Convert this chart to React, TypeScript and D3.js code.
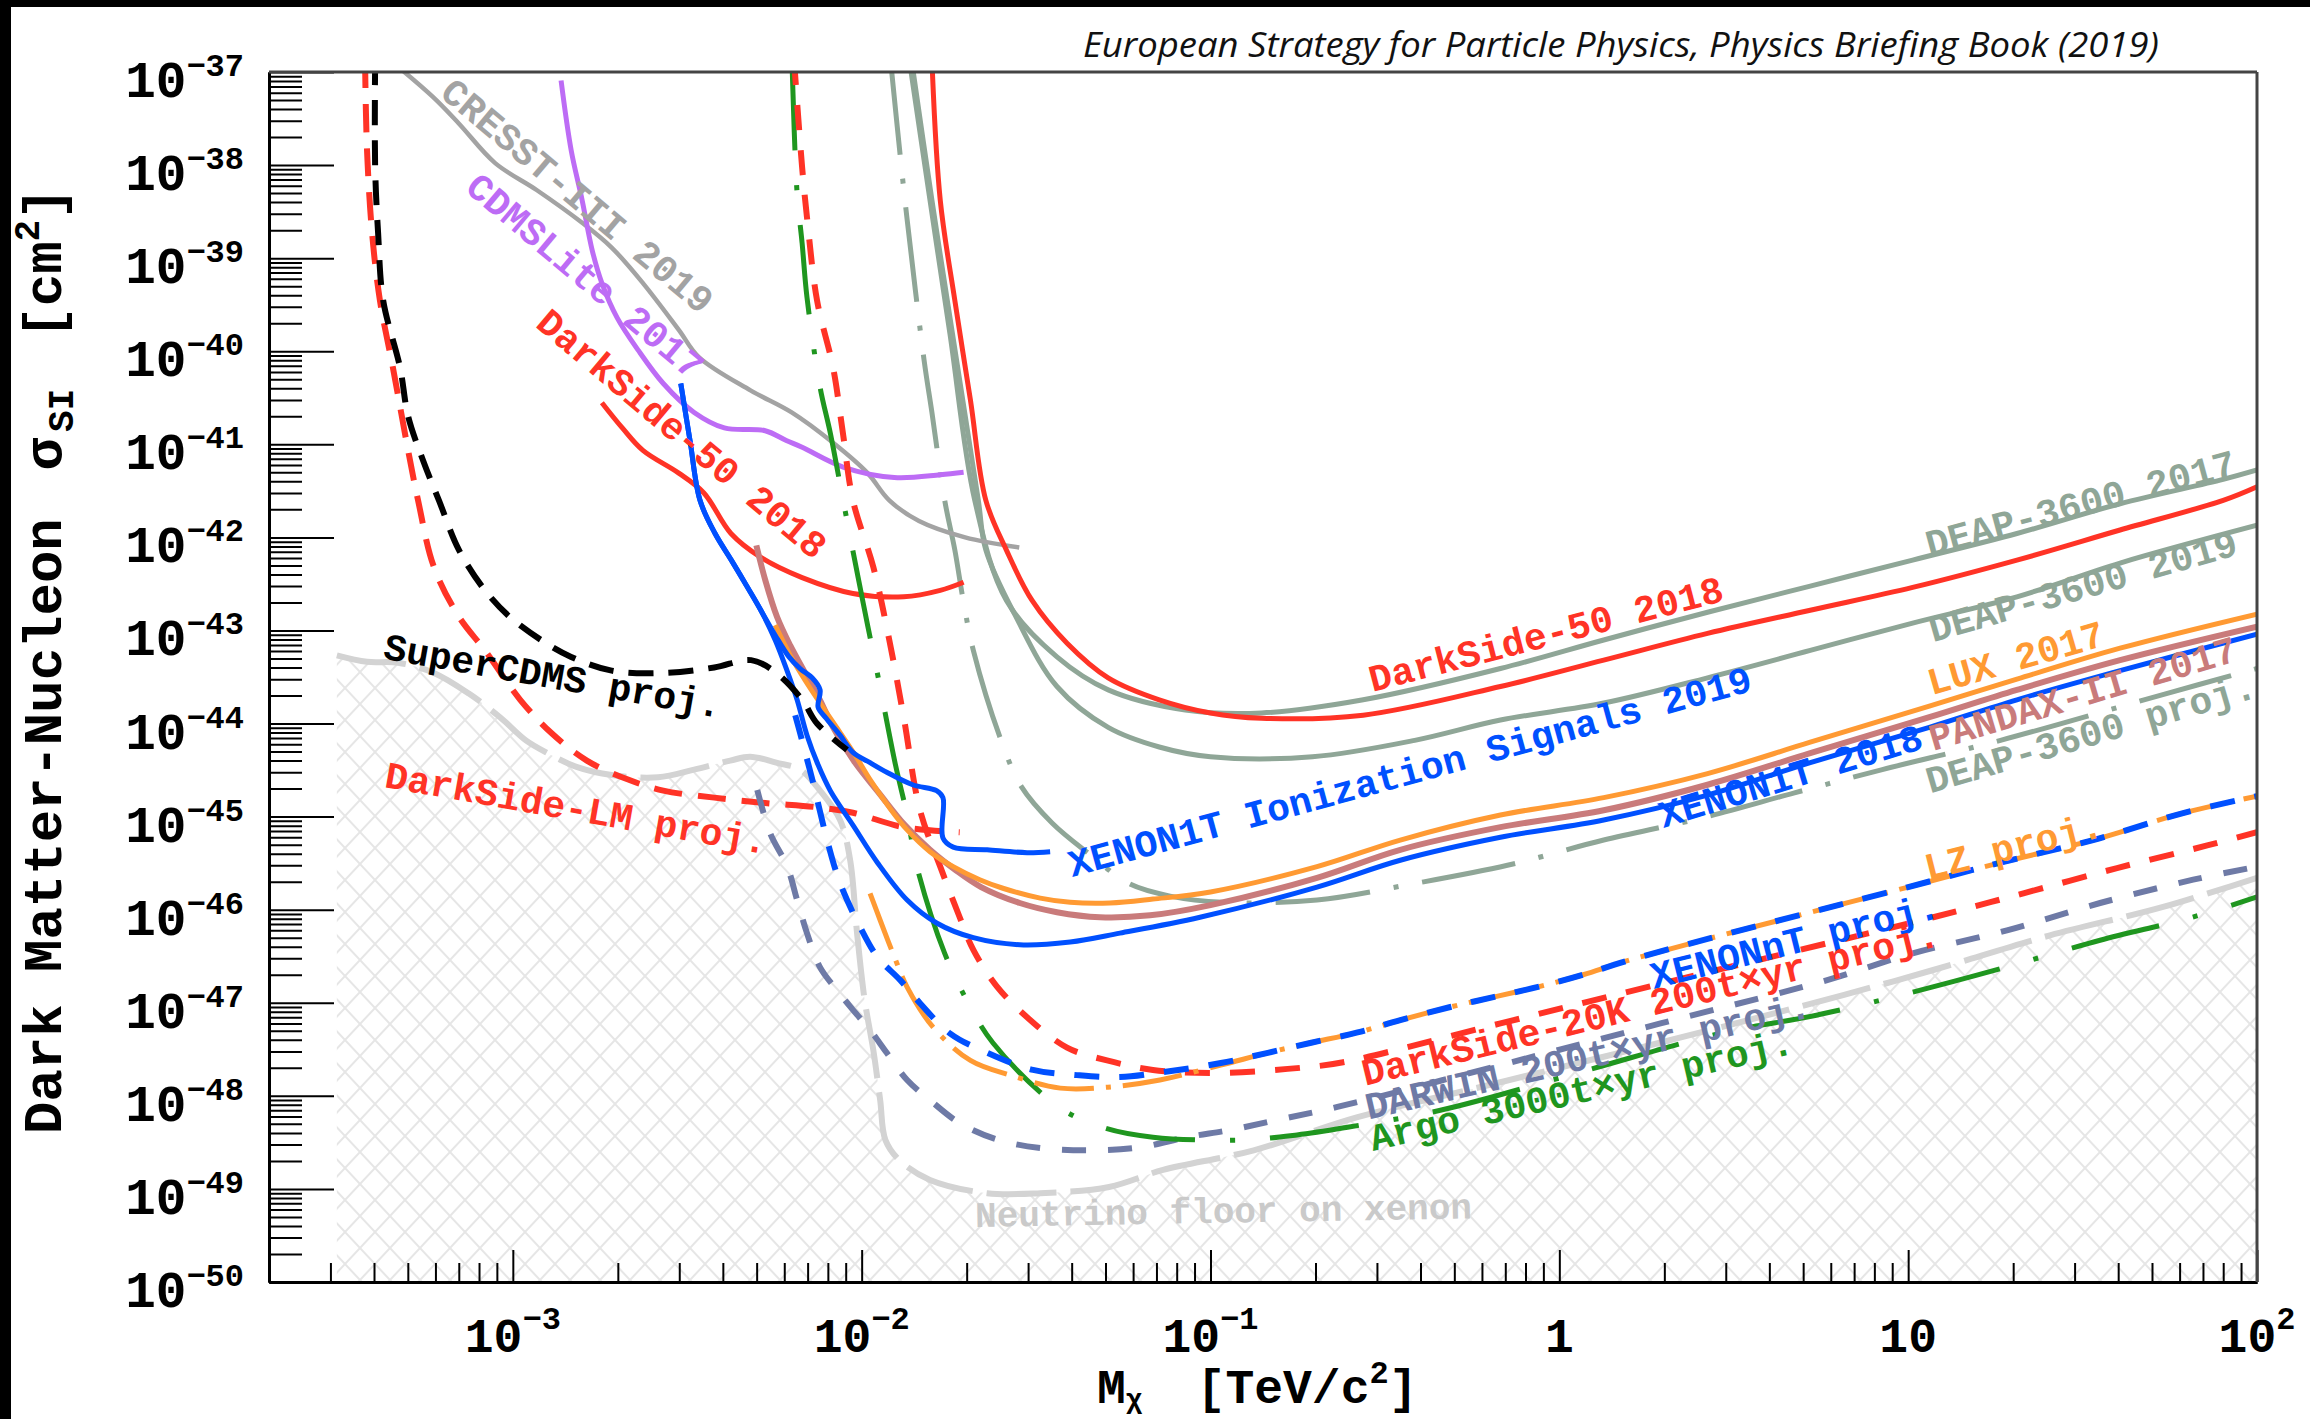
import * as d3 from "d3";
import { useEffect, useRef } from "react";

type Pt = [number, number]; // [WIMP mass in TeV/c^2, cross-section in cm^2]

// ---------- curves ----------
const cresst2019: Pt[] = [[4.45e-4, 1.34e-37], [5.9e-4, 5.4e-38], [7.0e-4, 2.8e-38], [8.9e-4, 1.05e-38], [1.17e-3, 5.4e-39], [1.58e-3, 2.4e-39], [1.92e-3, 1.3e-39], [2.36e-3, 5.4e-40], [2.99e-3, 1.7e-40], [3.42e-3, 8.6e-41], [4.8e-3, 3.8e-41], [6.3e-3, 2.2e-41], [8.3e-3, 1.03e-41], [1.04e-2, 4.9e-42], [1.2e-2, 2.5e-42], [1.46e-2, 1.5e-42], [1.98e-2, 1.0e-42], [2.83e-2, 7.8e-43]];

const cdmsLite2017: Pt[] = [[1.375e-3, 8.1e-38], [1.47e-3, 1.44e-38], [1.58e-3, 4.2e-39], [1.69e-3, 1.2e-39], [1.8e-3, 5.4e-40], [1.99e-3, 2.3e-40], [2.29e-3, 1.02e-40], [2.7e-3, 4.5e-41], [3.31e-3, 2.2e-41], [4.04e-3, 1.5e-41], [5.29e-3, 1.4e-41], [6.08e-3, 1.1e-41], [6.75e-3, 9.3e-42], [8.85e-3, 5.7e-42], [1.24e-2, 4.4e-42], [1.68e-2, 4.7e-42], [1.96e-2, 5.0e-42]];

const darkSide50Low: Pt[] = [[1.8e-3, 2.8e-41], [2.06e-3, 1.5e-41], [2.36e-3, 8.6e-42], [2.99e-3, 4.9e-42], [3.53e-3, 3.0e-42], [4.22e-3, 1.1e-42], [5.14e-3, 6.1e-43], [6.75e-3, 3.7e-43], [9.44e-3, 2.5e-43], [1.32e-2, 2.3e-43], [1.68e-2, 2.7e-43], [1.96e-2, 3.3e-43]];

const darkSide50High: Pt[] = [[1.59e-2, 1.34e-37], [1.68e-2, 4.2e-39], [1.85e-2, 3.5e-40], [2.05e-2, 3.0e-41], [2.27e-2, 2.5e-42], [2.6e-2, 7.3e-43], [3.08e-2, 2.1e-43], [3.88e-2, 7.3e-44], [5.09e-2, 3.1e-44], [7.13e-2, 1.8e-44], [0.1, 1.3e-44], [0.14, 1.14e-44], [0.274, 1.23e-44], [0.678, 2.5e-44], [1.34, 4.8e-44], [2.66, 9.3e-44], [5.24, 1.65e-43], [10.3, 2.9e-43], [20.5, 5.7e-43], [40.5, 1.2e-42], [80, 2.5e-42], [100, 3.5e-42]];

const deap2017: Pt[] = [[1.37e-2, 1.34e-37], [1.57e-2, 4.2e-39], [1.79e-2, 1.56e-40], [2.11e-2, 2.5e-42], [2.6e-2, 2.1e-43], [3.63e-2, 5.2e-44], [5.09e-2, 2.3e-44], [8.47e-2, 1.4e-44], [0.14, 1.3e-44], [0.274, 1.8e-44], [0.678, 3.9e-44], [1.34, 7.9e-44], [2.66, 1.57e-43], [5.24, 3.0e-43], [10.3, 5.7e-43], [20.5, 1.1e-42], [40.5, 2.3e-42], [80, 4.2e-42], [100, 5.3e-42]];

const deap2019: Pt[] = [[1.39e-2, 1.34e-37], [1.59e-2, 4.2e-39], [1.82e-2, 1.56e-40], [2.16e-2, 2.5e-42], [2.27e-2, 7.3e-43], [2.77e-2, 1.4e-43], [3.63e-2, 2.5e-44], [5.09e-2, 9.1e-45], [7.13e-2, 5.6e-45], [0.1, 4.4e-45], [0.196, 4.4e-45], [0.385, 6.6e-45], [0.678, 1.09e-44], [1.34, 1.66e-44], [2.66, 3.1e-44], [5.24, 6.1e-44], [10.3, 1.2e-43], [20.5, 2.3e-43], [40.5, 5.3e-43], [100, 1.35e-42]];

const deapProj: Pt[] = [[1.21e-2, 1.34e-37], [1.3e-2, 9.5e-39], [1.35e-2, 2.6e-39], [1.51e-2, 8.0e-41], [1.59e-2, 2.2e-41], [1.73e-2, 2.5e-42], [1.85e-2, 7.3e-43], [1.96e-2, 2.0e-43], [2.09e-2, 6.1e-44], [2.51e-2, 6.6e-45], [2.87e-2, 2.1e-45], [3.52e-2, 8.5e-46], [4.52e-2, 3.9e-46], [5.85e-2, 1.9e-46], [7.66e-2, 1.4e-46], [0.109, 1.2e-46], [0.202, 1.27e-46], [0.381, 1.9e-46], [0.71, 3.0e-46], [1.34, 5.6e-46], [2.54, 9.6e-46], [4.72, 1.8e-45], [8.43, 3.2e-45], [18.4, 6.6e-45], [55, 2.1e-44], [100, 3.9e-44]];

const xenon1tIonization2019: Pt[] = [[3.03e-3, 4.5e-41], [3.22e-3, 1.1e-41], [3.44e-3, 2.5e-42], [3.8e-3, 1.1e-42], [4.23e-3, 5.7e-43], [4.66e-3, 3.1e-43], [5.14e-3, 1.65e-43], [5.65e-3, 8.9e-44], [6.19e-3, 5.2e-44], [6.66e-3, 3.9e-44], [7.21e-3, 3.1e-44], [7.6e-3, 2.3e-44], [7.5e-3, 1.5e-44], [7.91e-3, 1.14e-44], [8.67e-3, 7.5e-45], [9.44e-3, 4.9e-45], [1.057e-2, 3.8e-45], [1.18e-2, 3.0e-45], [1.4e-2, 2.2e-45], [1.64e-2, 1.9e-45], [1.71e-2, 1.6e-45], [1.71e-2, 5.9e-46], [1.83e-2, 4.7e-46], [2.29e-2, 4.4e-46], [2.98e-2, 4.1e-46], [3.47e-2, 4.2e-46]];

const xenon1t2018: Pt[] = [[3.03e-3, 4.5e-41], [3.22e-3, 1.1e-41], [3.44e-3, 2.5e-42], [3.8e-3, 1.1e-42], [4.23e-3, 5.7e-43], [4.66e-3, 3.1e-43], [5.14e-3, 1.65e-43], [5.65e-3, 7.9e-44], [6.11e-3, 3.7e-44], [6.53e-3, 1.8e-44], [6.97e-3, 7.5e-45], [7.5e-3, 3.6e-45], [8.13e-3, 1.9e-45], [9.44e-3, 8.1e-46], [1.11e-2, 3.2e-46], [1.35e-2, 1.27e-46], [1.64e-2, 7.2e-47], [2.09e-2, 5.0e-47], [2.84e-2, 4.2e-47], [3.96e-2, 4.5e-47], [5.5e-2, 5.6e-47], [9.33e-2, 8.3e-47], [0.202, 1.75e-46], [0.35, 3.4e-46], [0.678, 6.0e-46], [1.34, 9.2e-46], [2.66, 1.7e-45], [5.24, 3.8e-45], [11.5, 9.1e-45], [20.5, 1.8e-44], [40.5, 3.7e-44], [100, 9.1e-44]];

const pandax2017: Pt[] = [[4.99e-3, 8.2e-43], [5.29e-3, 3.5e-43], [5.72e-3, 1.4e-43], [6.24e-3, 6.9e-44], [6.75e-3, 4.0e-44], [7.59e-3, 1.8e-44], [8.28e-3, 9.1e-45], [9.57e-3, 3.8e-45], [1.12e-2, 1.8e-45], [1.33e-2, 8.1e-46], [1.57e-2, 4.4e-46], [1.85e-2, 2.7e-46], [2.2e-2, 1.75e-46], [2.84e-2, 1.18e-46], [3.63e-2, 9.4e-47], [4.82e-2, 8.3e-47], [6.71e-2, 8.7e-47], [0.1, 1.12e-46], [0.202, 2.2e-46], [0.35, 4.4e-46], [0.678, 7.7e-46], [1.34, 1.17e-45], [2.66, 2.2e-45], [5.24, 4.8e-45], [11.5, 1.17e-44], [20.5, 2.3e-44], [40.5, 4.8e-44], [100, 1.1e-43]];

const lux2017: Pt[] = [[5.65e-3, 1.14e-43], [6.24e-3, 5.4e-44], [6.89e-3, 2.9e-44], [7.6e-3, 1.66e-44], [8.39e-3, 9.6e-45], [9.57e-3, 4.6e-45], [1.057e-2, 2.5e-45], [1.205e-2, 1.23e-45], [1.35e-2, 7.2e-46], [1.57e-2, 4.2e-46], [1.83e-2, 2.9e-46], [2.18e-2, 2.1e-46], [2.54e-2, 1.7e-46], [3.25e-2, 1.33e-46], [3.96e-2, 1.2e-46], [5.15e-2, 1.18e-46], [6.84e-2, 1.3e-46], [0.1, 1.55e-46], [0.202, 2.9e-46], [0.35, 5.6e-46], [0.678, 1.04e-45], [1.34, 1.6e-45], [2.66, 2.9e-45], [5.24, 6.3e-45], [11.5, 1.54e-44], [20.5, 3.0e-44], [40.5, 6.45e-44], [100, 1.5e-43]];

const darkSideLMProj: Pt[] = [[3.77e-4, 1.34e-37], [3.82e-4, 1.44e-38], [3.95e-4, 1.85e-39], [4.16e-4, 3.5e-40], [4.53e-4, 6.7e-41], [5.01e-4, 8.6e-42], [5.35e-4, 2.5e-42], [5.94e-4, 4.8e-43], [7.01e-4, 1.4e-43], [8.32e-4, 6.1e-44], [1.05e-3, 1.8e-44], [1.29e-3, 7.9e-45], [1.63e-3, 4.0e-45], [2.14e-3, 2.5e-45], [2.7e-3, 1.9e-45], [3.78e-3, 1.6e-45], [5.29e-3, 1.4e-45], [7.45e-3, 1.26e-45], [9.44e-3, 1.1e-45], [1.32e-2, 7.7e-46], [1.91e-2, 6.8e-46]];

const superCDMSProj: Pt[] = [[4.03e-4, 1.34e-37], [4.03e-4, 9.5e-39], [4.11e-4, 1.85e-39], [4.25e-4, 3.5e-40], [4.75e-4, 6.7e-41], [5.01e-4, 2.0e-41], [5.53e-4, 6.7e-42], [6.14e-4, 2.5e-42], [7.01e-4, 7.3e-43], [8.32e-4, 2.7e-43], [9.8e-4, 1.4e-43], [1.205e-3, 7.9e-44], [1.47e-3, 5.2e-44], [1.92e-3, 3.7e-44], [2.7e-3, 3.5e-44], [3.78e-3, 4.0e-44], [4.82e-3, 4.8e-44], [5.69e-3, 3.5e-44], [6.75e-3, 1.8e-44], [7.45e-3, 1.0e-44], [9.08e-3, 5.2e-45]];

const argoProj: Pt[] = [[6.31e-3, 1.34e-37], [6.53e-3, 5.0e-39], [6.75e-3, 1.45e-39], [6.97e-3, 3.8e-40], [7.6e-3, 4.1e-41], [8.13e-3, 1.32e-41], [8.85e-3, 2.5e-42], [9.77e-3, 3.7e-43], [1.04e-2, 1.14e-43], [1.12e-2, 2.9e-44], [1.25e-2, 3.6e-45], [1.35e-2, 1.04e-45], [1.44e-2, 2.9e-46], [1.73e-2, 3.4e-47], [2.0e-2, 1.07e-47], [2.38e-2, 3.7e-48], [3.71e-2, 7.4e-49], [4.99e-2, 4.5e-49], [6.84e-2, 3.6e-49], [0.122, 3.35e-49], [0.177, 3.8e-49], [0.247, 4.6e-49], [0.456, 7.0e-49], [1.15, 1.8e-48], [2.9, 4.7e-48], [5.5, 7.4e-48], [10.3, 1.3e-47], [19, 2.4e-47], [35.5, 4.7e-47], [65.2, 8.3e-47], [100, 1.37e-46]];

const darkSide20kProj: Pt[] = [[6.4e-3, 1.34e-37], [6.75e-3, 9.5e-39], [6.97e-3, 2.75e-39], [7.45e-3, 3.5e-40], [8.28e-3, 6.7e-41], [8.84e-3, 1.3e-41], [9.44e-3, 2.5e-42], [1.08e-2, 4.8e-43], [1.2e-2, 7.9e-44], [1.32e-2, 1.17e-44], [1.47e-2, 1.17e-45], [1.68e-2, 2.9e-46], [1.91e-2, 8.3e-47], [2.09e-2, 3.7e-47], [2.44e-2, 1.5e-47], [2.98e-2, 7.0e-48], [3.88e-2, 3.3e-48], [5.05e-2, 2.4e-48], [6.84e-2, 1.9e-48], [0.102, 1.76e-48], [0.181, 2.0e-48], [0.24, 2.3e-48], [0.678, 6.0e-48], [1.82, 1.5e-47], [4.9, 3.7e-47], [11.8, 8.3e-47], [21.4, 1.5e-46], [39.7, 2.8e-46], [72, 4.9e-46], [100, 6.8e-46]];

const xenonNTProj: Pt[] = [[6.45e-3, 1.23e-44], [6.66e-3, 7.9e-45], [7.26e-3, 2.3e-45], [7.96e-3, 5.6e-46], [8.67e-3, 1.93e-46], [9.9e-3, 6.5e-47], [1.11e-2, 3.1e-47], [1.29e-2, 1.75e-47], [1.47e-2, 9.9e-48], [1.79e-2, 4.7e-48], [2.29e-2, 2.9e-48], [3.1e-2, 1.9e-48], [4.14e-2, 1.67e-48], [5.5e-2, 1.59e-48], [7.31e-2, 1.8e-48], [0.107, 2.25e-48], [0.146, 2.9e-48], [0.193, 3.7e-48], [0.264, 4.8e-48], [0.35, 6.5e-48], [0.487, 9.0e-48], [0.647, 1.15e-47], [0.881, 1.5e-47], [1.17, 2.0e-47], [1.6, 2.9e-47], [10, 1.75e-46], [18.4, 3.2e-46], [33.9, 5.6e-46], [61.4, 1.09e-45], [100, 1.66e-45]];

const lzProj: Pt[] = [[1.057e-2, 1.5e-46], [1.13e-2, 7.7e-47], [1.25e-2, 2.9e-47], [1.35e-2, 1.47e-47], [1.6e-2, 5.5e-48], [2.05e-2, 2.4e-48], [2.66e-2, 1.67e-48], [3.71e-2, 1.21e-48], [5.08e-2, 1.24e-48], [7.16e-2, 1.48e-48], [0.107, 2.14e-48], [0.146, 2.9e-48], [0.193, 3.7e-48], [0.264, 4.8e-48], [0.35, 6.5e-48], [0.487, 9.0e-48], [0.647, 1.15e-47], [0.881, 1.5e-47], [1.17, 2.0e-47], [1.6, 2.9e-47], [10, 1.75e-46], [18.4, 3.2e-46], [33.9, 5.6e-46], [61.4, 1.09e-45], [100, 1.66e-45]];

const darwinProj: Pt[] = [[5.02e-3, 1.93e-45], [5.47e-3, 6.6e-46], [6.12e-3, 2.9e-46], [6.53e-3, 1.27e-46], [6.97e-3, 5.6e-47], [7.6e-3, 2.4e-47], [8.49e-3, 1.37e-47], [9.44e-3, 8.4e-48], [1.057e-2, 5.1e-48], [1.18e-2, 2.9e-48], [1.35e-2, 1.48e-48], [1.57e-2, 9.0e-49], [1.91e-2, 5.1e-49], [2.44e-2, 3.4e-49], [3.25e-2, 2.75e-49], [4.52e-2, 2.6e-49], [6.28e-2, 2.8e-49], [8.57e-2, 3.6e-49], [0.114, 4.3e-49], [0.155, 5.5e-49], [0.231, 7.6e-49], [0.678, 2.14e-48], [1.95, 6.0e-48], [5.86, 1.75e-47], [10.3, 3.4e-47], [19.2, 6.0e-47], [35.5, 1.18e-46], [65.6, 2.1e-46], [100, 2.9e-46]];

const neutrinoFloorXenon: Pt[] = [[3.13e-4, 5.4e-44], [3.82e-4, 4.6e-44], [4.69e-4, 4.5e-44], [5.94e-4, 3.5e-44], [7.48e-4, 2.1e-44], [9.19e-4, 1.17e-44], [1.09e-3, 6.6e-45], [1.26e-3, 4.8e-45], [1.53e-3, 3.4e-45], [1.92e-3, 2.8e-45], [2.61e-3, 2.65e-45], [3.31e-3, 3.2e-45], [4.2e-3, 4.0e-45], [4.79e-3, 4.4e-45], [5.69e-3, 3.8e-45], [6.66e-3, 3.2e-45], [7.6e-3, 1.9e-45], [8.67e-3, 9.2e-46], [9.27e-3, 3.4e-46], [9.7e-3, 5.6e-47], [1.02e-2, 1.07e-47], [1.08e-2, 3.1e-48], [1.13e-2, 9.0e-49], [1.17e-2, 3.35e-49], [1.29e-2, 2.0e-49], [1.57e-2, 1.25e-49], [2.29e-2, 9.0e-50], [3.25e-2, 9.0e-50], [5.12e-2, 1.05e-49], [7.31e-2, 1.6e-49], [0.133, 2.6e-49], [0.264, 5.9e-49], [0.678, 1.4e-48], [2.54, 4.8e-48], [6.51, 1.21e-47], [11.8, 2.25e-47], [25.5, 5.3e-47], [53.8, 1.07e-46], [100, 2.2e-46]];

// ---------- axis tick labels ----------
const xTickValues = [1e-3, 1e-2, 1e-1, 1, 10, 100];
const xTickBase = ["10", "10", "10", "1", "10", "10"];
const xTickExp = ["−3", "−2", "−1", "", "", "2"];
const yTickExponents = [-37, -38, -39, -40, -41, -42, -43, -44, -45, -46, -47, -48, -49, -50];

// ---------- curve labels (anchor in data units) ----------
const labelTexts = [
  "CRESST-III 2019", "CDMSLite 2017", "DarkSide-50 2018", "SuperCDMS proj.", "DarkSide-LM proj.",
  "XENON1T Ionization Signals 2019", "DarkSide-50 2018", "DEAP-3600 2017", "DEAP-3600 2019",
  "LUX 2017", "PANDAX-II 2017", "XENON1T 2018", "DEAP-3600 proj.", "LZ proj.", "XENONnT proj.",
  "DarkSide-20K 200t×yr proj.", "DARWIN 200t×yr proj.", "Argo 3000t×yr proj.", "Neutrino floor on xenon",
];
const labelAnchors: Pt[] = [
  [1.52e-3, 4.5e-39], [1.6e-3, 6.2e-40], [3.03e-3, 1.25e-41], [1.3e-3, 3.1e-44], [1.52e-3, 1.17e-45],
  [0.374, 2.9e-45], [0.918, 8.7e-44], [31.3, 2.2e-42], [31.8, 2.85e-43],
  [20.4, 4.8e-44], [31.8, 2.0e-44], [4.62, 2.6e-45], [33.5, 7.5e-45], [20.1, 4.6e-46], [4.75, 4.4e-47],
  [1.83, 9.4e-48], [1.21, 2.55e-48], [1.16, 1.1e-48], [0.109, 5.5e-50],
];

const RED = "#ff3326";
const BLUE = "#0050ff";
const ORANGE = "#ff9a33";
const ROSE = "#c97b7b";
const DEAP = "#8fa697";
const GRAY = "#a3a3a3";
const VIOLET = "#bd6cf5";
const SLATE = "#6e7aa6";
const GREEN = "#1f961f";

export default function App() {
  const ref = useRef<SVGSVGElement | null>(null);

  useEffect(() => {
    if (!ref.current) return;
    const W = 2310;
    const H = 1419;
    const m = { left: 269, right: 2257, top: 72, bottom: 1282 };

    const x = d3.scaleLog().domain([2e-4, 100]).range([m.left, m.right]);
    const y = d3.scaleLog().domain([1e-50, 1e-37]).range([m.bottom, m.top]);

    const svg = d3.select(ref.current);
    svg.selectAll("*").remove();

    svg.append("rect").attr("width", W).attr("height", H).attr("fill", "#fff");
    svg.append("rect").attr("width", W).attr("height", 7).attr("fill", "#000");
    svg.append("rect").attr("width", 11).attr("height", H).attr("fill", "#000");

    const defs = svg.append("defs");
    defs.append("clipPath").attr("id", "plotclip").append("rect")
      .attr("x", m.left).attr("y", m.top).attr("width", m.right - m.left).attr("height", m.bottom - m.top);
    const pat = defs.append("pattern").attr("id", "hatch").attr("patternUnits", "userSpaceOnUse")
      .attr("width", 30).attr("height", 32);
    pat.append("path").attr("d", "M0,0L30,32M30,0L0,32").attr("stroke", "#e6e6e6").attr("stroke-width", 2);

    // title
    svg.append("text").attr("x", 1083).attr("y", 57)
      .attr("font-family", "'Open Sans', sans-serif").attr("font-style", "italic")
      .attr("font-size", 35).attr("textLength", 1076).attr("lengthAdjust", "spacingAndGlyphs")
      .attr("fill", "#111")
      .text("European Strategy for Particle Physics, Physics Briefing Book (2019)");

    const plot = svg.append("g").attr("clip-path", "url(#plotclip)");
    const line = d3.line<Pt>().x((d) => x(d[0])).y((d) => y(d[1])).curve(d3.curveCatmullRom.alpha(0.5));
    const area = d3.area<Pt>().x((d) => x(d[0])).y0(m.bottom).y1((d) => y(d[1])).curve(d3.curveCatmullRom.alpha(0.5));

    // neutrino floor hatch
    plot.append("path").datum(neutrinoFloorXenon).attr("d", area).attr("fill", "url(#hatch)");

    const series: { data: Pt[]; color: string; width: number; dash?: string }[] = [
      { data: neutrinoFloorXenon, color: "#d3d3d3", width: 6, dash: "70,14" },
      { data: deapProj, color: DEAP, width: 5, dash: "95,24,5,24" },
      { data: deap2017, color: DEAP, width: 5 },
      { data: deap2019, color: DEAP, width: 5 },
      { data: cresst2019, color: GRAY, width: 4.5 },
      { data: cdmsLite2017, color: VIOLET, width: 5 },
      { data: darkSide50Low, color: RED, width: 5 },
      { data: darkSide50High, color: RED, width: 5 },
      { data: darkSideLMProj, color: RED, width: 6, dash: "28,16" },
      { data: darwinProj, color: SLATE, width: 6, dash: "24,22" },
      { data: argoProj, color: GREEN, width: 5, dash: "90,35,5,35" },
      { data: darkSide20kProj, color: RED, width: 6, dash: "25,20" },
      { data: lzProj, color: ORANGE, width: 5, dash: "60,12,5,12" },
      { data: xenonNTProj, color: BLUE, width: 6, dash: "25,20" },
      { data: pandax2017, color: ROSE, width: 6 },
      { data: lux2017, color: ORANGE, width: 5 },
      { data: xenon1t2018, color: BLUE, width: 5 },
      { data: xenon1tIonization2019, color: BLUE, width: 5 },
      { data: superCDMSProj, color: "#000", width: 6, dash: "25,15" },
    ];

    series.forEach((s) => {
      plot.append("path").datum(s.data).attr("d", line)
        .attr("fill", "none").attr("stroke", s.color).attr("stroke-width", s.width)
        .attr("stroke-dasharray", s.dash ?? null).attr("stroke-linejoin", "round");
    });

    // axes
    const yMinor = d3.range(-50, -37).flatMap((e) => d3.range(2, 10).map((j) => j * Math.pow(10, e)));
    const yMajor = d3.range(-50, -36).map((e) => Math.pow(10, e));
    const xMinor = d3.range(-4, 2).flatMap((e) => d3.range(2, 10).map((j) => j * Math.pow(10, e))).filter((v) => v > 2.05e-4 && v < 100);

    const styleAxis = (g: d3.Selection<SVGGElement, unknown, null, undefined>) => {
      g.selectAll("line").attr("stroke", "#000").attr("stroke-width", 2);
      g.selectAll("path").attr("stroke", "#000").attr("stroke-width", 3);
      g.selectAll("text").remove();
    };

    svg.append("g").attr("transform", `translate(${m.left},0)`)
      .call(d3.axisLeft(y).tickValues(yMinor).tickSize(-33).tickSizeOuter(0).tickFormat(() => ""))
      .call(styleAxis);
    svg.append("g").attr("transform", `translate(${m.left},0)`)
      .call(d3.axisLeft(y).tickValues(yMajor).tickSize(-65).tickSizeOuter(0).tickFormat(() => ""))
      .call(styleAxis);
    svg.append("g").attr("transform", `translate(0,${m.bottom})`)
      .call(d3.axisBottom(x).tickValues(xMinor).tickSize(-19).tickSizeOuter(0).tickFormat(() => ""))
      .call(styleAxis);
    svg.append("g").attr("transform", `translate(0,${m.bottom})`)
      .call(d3.axisBottom(x).tickValues(xTickValues).tickSize(-32).tickSizeOuter(0).tickFormat(() => ""))
      .call(styleAxis);

    // frame top / right
    svg.append("line").attr("x1", m.left).attr("x2", m.right).attr("y1", m.top).attr("y2", m.top)
      .attr("stroke", "#444").attr("stroke-width", 3);
    svg.append("line").attr("x1", m.right).attr("x2", m.right).attr("y1", m.top).attr("y2", m.bottom)
      .attr("stroke", "#444").attr("stroke-width", 3);

    const mono = "'Liberation Mono', 'DejaVu Sans Mono', monospace";

    // y tick labels
    yTickExponents.forEach((e) => {
      const t = svg.append("text").attr("x", 244).attr("y", y(Math.pow(10, e)) + 25)
        .attr("text-anchor", "end").attr("font-family", mono).attr("font-weight", "bold")
        .attr("font-size", 51).attr("fill", "#000");
      t.append("tspan").text("10");
      t.append("tspan").attr("dy", -21).attr("font-size", 32).text("−" + Math.abs(e));
    });

    // x tick labels
    xTickValues.forEach((v, i) => {
      const t = svg.append("text").attr("x", x(v)).attr("y", 1352)
        .attr("text-anchor", "middle").attr("font-family", mono).attr("font-weight", "bold")
        .attr("font-size", 48).attr("fill", "#000");
      t.append("tspan").text(xTickBase[i]);
      if (xTickExp[i]) t.append("tspan").attr("dy", -23).attr("font-size", 32).text(xTickExp[i]);
    });

    // x title
    const xt = svg.append("text").attr("x", 1097).attr("y", 1403)
      .attr("font-family", mono).attr("font-weight", "bold").attr("font-size", 48).attr("fill", "#000");
    xt.append("tspan").text("M");
    xt.append("tspan").attr("dy", 5).attr("font-size", 28).text("χ");
    xt.append("tspan").attr("dy", -5).attr("dx", 54).text("[TeV/c");
    xt.append("tspan").attr("dy", -20).attr("font-size", 32).text("2");
    xt.append("tspan").attr("dy", 20).text("]");

    // y title
    const yt = svg.append("text").attr("transform", "translate(61,1134) rotate(-90)")
      .attr("font-family", mono).attr("font-weight", "bold").attr("font-size", 54).attr("fill", "#000");
    yt.append("tspan").text("Dark Matter-Nucleon");
    yt.append("tspan").attr("dx", 48).text("σ");
    yt.append("tspan").attr("dy", 12).attr("dx", 6).attr("font-size", 36).text("SI");
    yt.append("tspan").attr("dy", -12).attr("dx", 50).text("[cm");
    yt.append("tspan").attr("dy", -22).attr("font-size", 36).text("2");
    yt.append("tspan").attr("dy", 22).text("]");

    // curve labels
    const labelColors = [GRAY, VIOLET, RED, "#000", RED, BLUE, RED, DEAP, DEAP, ORANGE, ROSE, BLUE, DEAP, ORANGE, BLUE, RED, SLATE, GREEN, "#cacaca"];
    const labelAngles = [40, 40, 40, 10, 10, -15.3, -14.5, -15, -16, -16, -16.5, -17, -16.4, -14, -14, -13.7, -13, -13, -1];
    labelTexts.forEach((txt, i) => {
      const [mx, sy] = labelAnchors[i];
      svg.append("text")
        .attr("transform", `translate(${x(mx)},${y(sy)}) rotate(${labelAngles[i]})`)
        .attr("text-anchor", "middle").attr("dominant-baseline", "central")
        .attr("font-family", mono).attr("font-weight", "bold")
        .attr("font-size", i === 18 ? 36 : 38).attr("fill", labelColors[i])
        .text(txt);
    });
  }, []);

  return (
    <svg ref={ref} width={2310} height={1419}
      style={{ position: "absolute", left: 0, top: 0, display: "block" }} />
  );
}
